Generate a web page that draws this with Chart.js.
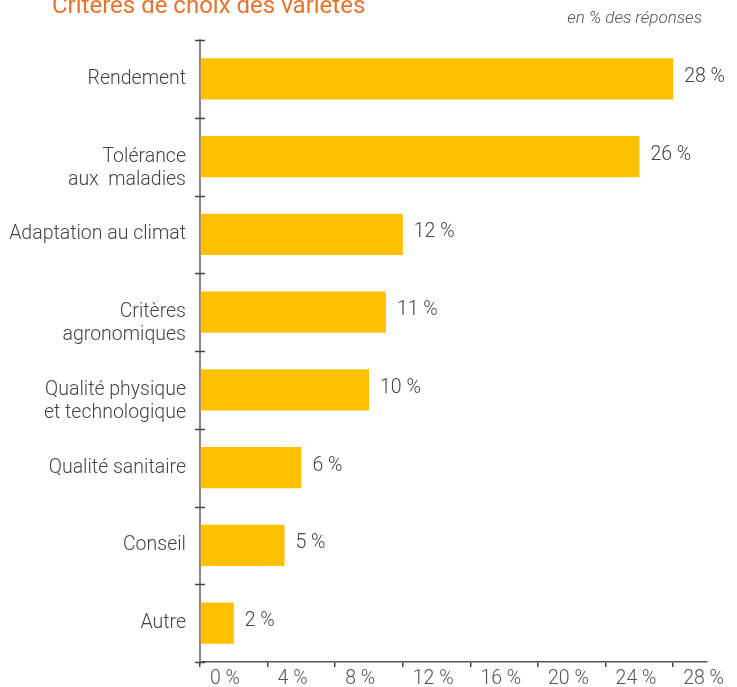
<!DOCTYPE html>
<html lang="fr">
<head>
<meta charset="utf-8">
<script src="https://cdn.jsdelivr.net/npm/chart.js@4"></script>
<style>
    html, body { margin: 0; padding: 0; background: #fff; }
    .wrap { position: relative; width: 737px; height: 687px; overflow: hidden; }
    .title { position: absolute; left: 52px; top: -7px; font: 400 24px Roboto, sans-serif; line-height: 24px; color: #e8732f; white-space: nowrap; }
    .unit { position: absolute; right: 35px; top: 7px; font: italic 300 17px Roboto, sans-serif; color: #555; }
    canvas { position: absolute; left: 0; top: 0; }
</style>
</head>
<body>
<div class="wrap">
    <canvas id="c" width="737" height="687"></canvas>
    <div class="title">Critères de choix des variétés</div>
    <div class="unit">en % des réponses</div>
</div>
<script>
/* Critères de choix des variétés, en % des réponses */
const CATEGORIES = [
    'Rendement',
    ['', 'Tolérance', 'aux  maladies'],
    'Adaptation au climat',
    ['', 'Critères', 'agronomiques'],
    ['', 'Qualité physique', 'et technologique'],
    'Qualité sanitaire',
    'Conseil',
    'Autre',
];
const VALUES = [28, 26, 12, 11, 10, 6, 5, 2];
const X_TICKS = [0, 4, 8, 12, 16, 20, 24, 28];

const FONT = { family: 'Roboto, sans-serif', size: 19.5, weight: '300' };
const TEXT = '#444';

// étiquettes "xx %" à droite de chaque barre
const valueLabels = {
    id: 'valueLabels',
    afterDatasetsDraw(chart) {
        const ctx = chart.ctx;
        const meta = chart.getDatasetMeta(0);
        ctx.save();
        ctx.font = `${FONT.weight} ${FONT.size}px ${FONT.family}`;
        ctx.fillStyle = TEXT;
        ctx.textAlign = 'left';
        ctx.textBaseline = 'middle';
        meta.data.forEach((bar, i) => {
            ctx.fillText(VALUES[i] + ' %', bar.x + 11, bar.y - 2);
        });
        ctx.restore();
    },
};

// petits traits de l'axe vertical, de part et d'autre de la ligne
const crossTicks = {
    id: 'crossTicks',
    afterDraw(chart) {
        const y = chart.scales.y;
        const n = y.ticks.length;
        const ctx = chart.ctx;
        ctx.save();
        ctx.strokeStyle = '#444';
        ctx.lineWidth = 1.5;
        for (let i = 0; i <= n; i++) {
            const py = Math.round(y.top + i * (y.height / n)) + 0.5;
            ctx.beginPath();
            ctx.moveTo(y.right - 5, py);
            ctx.lineTo(y.right + 5, py);
            ctx.stroke();
        }
        ctx.restore();
    },
};

new Chart(document.getElementById('c'), {
    type: 'bar',
    data: {
        labels: CATEGORIES,
        datasets: [{
            data: VALUES,
            backgroundColor: '#ffc000',
            borderWidth: 0,
            categoryPercentage: 1,
            barPercentage: 0.53,
        }],
    },
    options: {
        indexAxis: 'y',
        responsive: false,
        animation: false,
        layout: { padding: { left: 0, right: 30, top: 40, bottom: 0 } },
        plugins: { legend: { display: false }, tooltip: { enabled: false } },
        scales: {
            x: {
                min: 0,
                max: 30,
                afterBuildTicks: (s) => { s.ticks = X_TICKS.map((v) => ({ value: v })); },
                afterFit: (s) => { s.height = 25; },
                border: { color: '#555', width: 1.5 },
                grid: { drawOnChartArea: false, tickLength: 5, color: '#444', lineWidth: 1.5 },
                ticks: {
                    align: 'start',
                    labelOffset: 10,
                    padding: 0,
                    color: '#555',
                    font: FONT,
                    callback: (v) => v + ' %',
                },
            },
            y: {
                afterFit: (s) => { s.width = 200; },
                border: { color: '#888', width: 2 },
                grid: { drawOnChartArea: false, drawTicks: true, tickLength: 5, color: 'rgba(0,0,0,0)', offset: true },
                ticks: { padding: 9, color: TEXT, font: FONT },
            },
        },
    },
    plugins: [valueLabels, crossTicks],
});
</script>
</body>
</html>
